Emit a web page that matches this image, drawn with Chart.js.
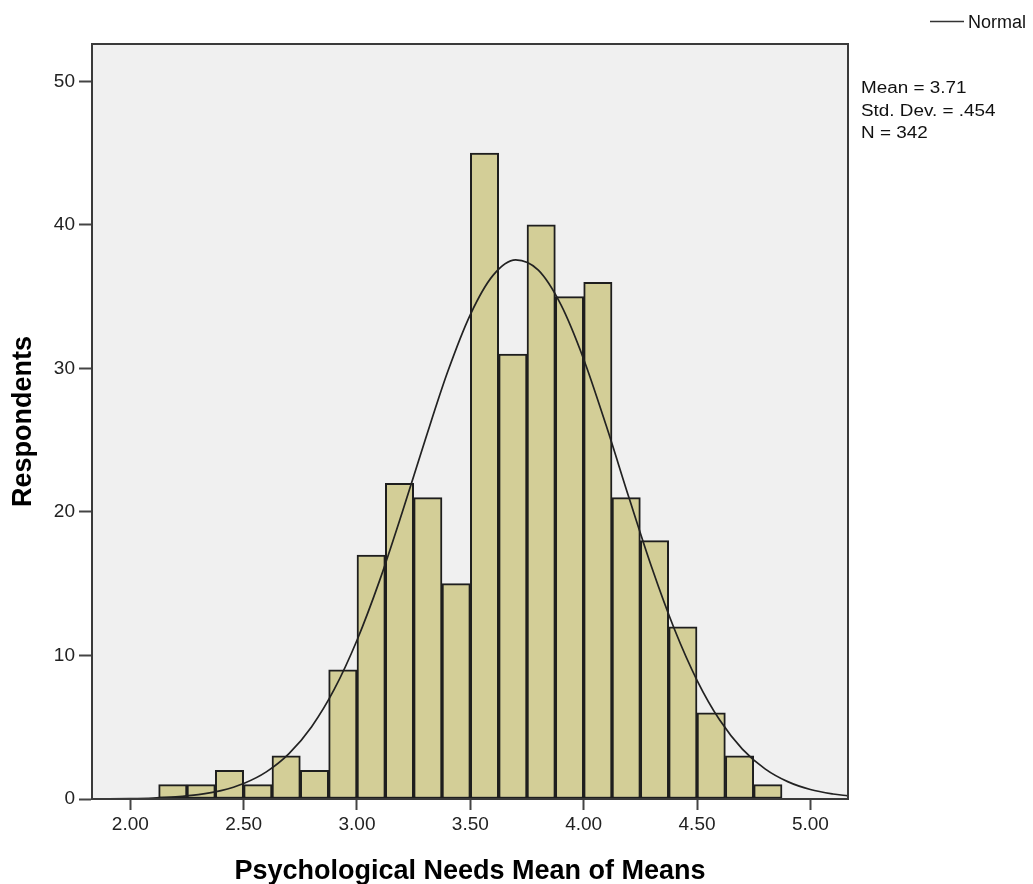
<!DOCTYPE html>
<html>
<head>
<meta charset="utf-8">
<script src="https://cdn.jsdelivr.net/npm/chart.js@4.4.1/dist/chart.umd.min.js"></script>
<style>
html, body { margin: 0; padding: 0; background: #fff; }
#wrap { width: 1033px; height: 884px; }
</style>
</head>
<body>
<div id="wrap"><canvas id="hist" width="1033" height="884"></canvas></div>
<script>
// histogram bins (width .125, first bin starts at 2.125)
const binCenters = [2.1875, 2.3125, 2.4375, 2.5625, 2.6875, 2.8125, 2.9375, 3.0625, 3.1875, 3.3125, 3.4375,
  3.5625, 3.6875, 3.8125, 3.9375, 4.0625, 4.1875, 4.3125, 4.4375, 4.5625, 4.6875, 4.8125];
const counts = [1, 1, 2, 1, 3, 2, 9, 17, 22, 21, 15, 45, 31, 40, 35, 36, 21, 18, 12, 6, 3, 1];

// normal curve
const curveX = [1.831, 1.9, 2.0, 2.1, 2.2, 2.3, 2.4, 2.5, 2.6, 2.7, 2.8, 2.9, 3.0, 3.1, 3.2, 3.3, 3.4, 3.5,
  3.6, 3.7, 3.8, 3.9, 4.0, 4.1, 4.2, 4.3, 4.4, 4.5, 4.6, 4.7, 4.8, 4.9, 5.0, 5.1, 5.166];
const curveY = [0.007, 0.013, 0.031, 0.070, 0.149, 0.302, 0.585, 1.08, 1.89, 3.16, 5.04, 7.65, 11.06, 15.23,
  19.99, 24.98, 29.76, 33.75, 36.48, 37.56, 36.84, 34.42, 30.64, 25.98, 20.98, 16.14, 11.84, 8.27, 5.50,
  3.48, 2.10, 1.21, 0.66, 0.35, 0.22];

const xTickValues = [2.0, 2.5, 3.0, 3.5, 4.0, 4.5, 5.0];
const yTickValues = [0, 10, 20, 30, 40, 50];
const xTitle = 'Psychological Needs Mean of Means';
const yTitle = 'Respondents';
const legendLabel = 'Normal';
const statsLines = ['Mean = 3.71', 'Std. Dev. = .454', 'N = 342'];

const FONT = "'Liberation Sans', Arial, sans-serif";
Chart.defaults.font.family = FONT;

// plot background, frame, legend and stats text
const decor = {
  id: 'decor',
  beforeDraw(chart) {
    const { ctx, chartArea: a } = chart;
    ctx.save();
    ctx.fillStyle = '#ffffff';
    ctx.fillRect(0, 0, chart.width, chart.height);
    ctx.fillStyle = '#f0f0f0';
    ctx.fillRect(a.left, a.top, a.right - a.left, a.bottom - a.top);
    ctx.restore();
  },
  afterDraw(chart) {
    const { ctx, chartArea: a } = chart;
    ctx.save();
    ctx.strokeStyle = '#3a3a3a';
    ctx.lineWidth = 2;
    ctx.strokeRect(a.left, a.top, a.right - a.left, a.bottom - a.top);

    // legend
    ctx.strokeStyle = '#333';
    ctx.lineWidth = 1.5;
    ctx.beginPath();
    ctx.moveTo(930, 21.5);
    ctx.lineTo(964, 21.5);
    ctx.stroke();
    ctx.fillStyle = '#111';
    ctx.font = '18px ' + FONT;
    ctx.textBaseline = 'alphabetic';
    ctx.fillText(legendLabel, 968, 28);

    // stats
    ctx.font = '16px ' + FONT;
    const baselines = [93, 116, 138];
    statsLines.forEach(function(t, i) {
      ctx.save();
      ctx.translate(861, baselines[i]);
      ctx.scale(1.18, 1);
      ctx.fillText(t, 0, 0);
      ctx.restore();
    });
    ctx.restore();
  }
};

new Chart(document.getElementById('hist').getContext('2d'), {
  type: 'bar',
  data: {
    datasets: [
      {
        type: 'line',
        label: legendLabel,
        data: curveX.map(function(x, i) { return { x: x, y: curveY[i] }; }),
        borderColor: '#222',
        borderWidth: 1.7,
        pointRadius: 0,
        fill: false,
        cubicInterpolationMode: 'monotone',
        order: 0
      },
      {
        type: 'bar',
        label: 'Respondents',
        data: binCenters.map(function(x, i) { return { x: x, y: counts[i] }; }),
        backgroundColor: '#d3ce97',
        borderColor: '#1e1e1e',
        borderWidth: 2,
        borderSkipped: false,
        categoryPercentage: 1,
        barPercentage: 1,
        grouped: false,
        order: 1
      }
    ]
  },
  options: {
    responsive: false,
    animation: false,
    devicePixelRatio: 1,
    layout: { padding: { top: 44, right: 185, left: 0, bottom: 0 } },
    plugins: {
      legend: { display: false },
      tooltip: { enabled: false }
    },
    scales: {
      x: {
        type: 'linear',
        min: 1.831,
        max: 5.166,
        offset: false,
        afterFit: function(s) { s.height = 85; },
        afterBuildTicks: function(s) { s.ticks = xTickValues.map(function(v) { return { value: v }; }); },
        ticks: {
          color: '#222',
          font: { size: 19 },
          padding: 3,
          maxRotation: 0,
          callback: function(v) { return Number(v).toFixed(2); }
        },
        grid: { drawOnChartArea: false, drawTicks: true, tickLength: 11, tickWidth: 2, tickColor: '#444', offset: false },
        border: { display: true, color: '#3a3a3a', width: 2 },
        title: {
          display: true,
          text: xTitle,
          color: '#000',
          font: { size: 27, weight: 'bold', lineHeight: 1.2 },
          padding: { top: 0, bottom: -4 }
        }
      },
      y: {
        min: 0,
        max: 52.6,
        afterFit: function(s) { s.width = 92; },
        afterBuildTicks: function(s) { s.ticks = yTickValues.map(function(v) { return { value: v }; }); },
        ticks: { color: '#222', font: { size: 19 }, padding: 4 },
        grid: { drawOnChartArea: false, drawTicks: true, tickLength: 13, tickWidth: 2, tickColor: '#444' },
        border: { display: true, color: '#3a3a3a', width: 2 },
        title: {
          display: true,
          text: yTitle,
          color: '#000',
          font: { size: 27, weight: 'bold', lineHeight: 1.2 },
          padding: { top: 7, bottom: 0 }
        }
      }
    }
  },
  plugins: [decor]
});
</script>
</body>
</html>
